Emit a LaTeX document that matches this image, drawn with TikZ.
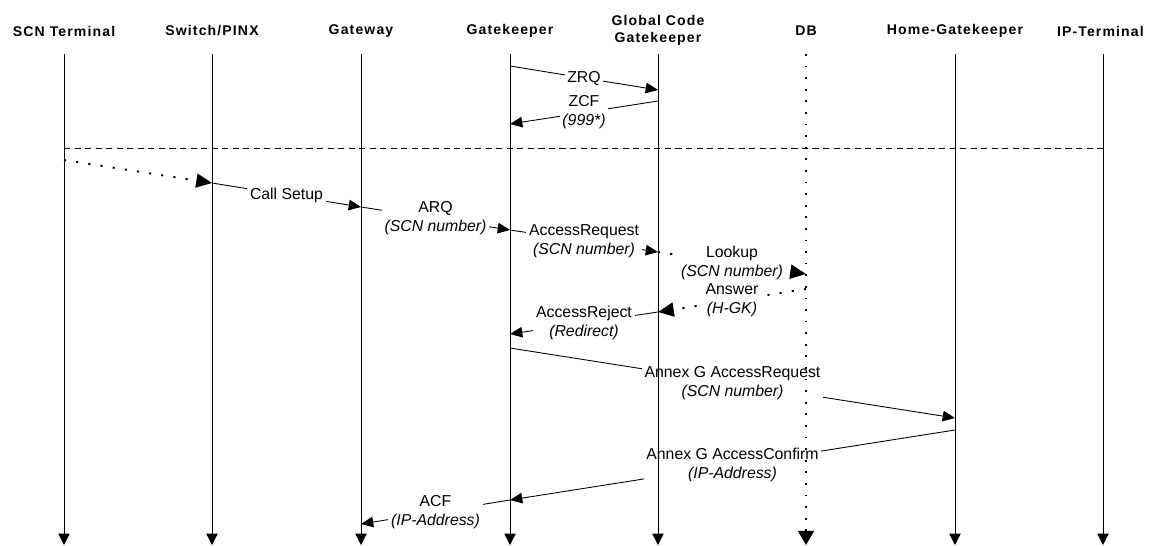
\documentclass[tikz,border=0pt]{standalone}
\usepackage{fontspec}
\setmainfont{Liberation Sans}
\newfontfamily\hdrfont{Liberation Sans}[LetterSpace=8]
\usetikzlibrary{arrows.meta}

\tikzset{
  actor/.style={font=\hdrfont\fontsize{8}{9.6}\selectfont\bfseries, align=center},
  lifeline/.style={line width=0.5pt, -{Triangle[length=6.5pt,width=6.5pt]}},
  dblife/.style={line width=1.2pt, dash pattern=on 1pt off 5.6pt, -{Triangle[length=8pt,width=9pt]}},
  msg/.style={line width=0.5pt, -{Triangle[length=7pt,width=6pt]}},
  dotmsg/.style={line width=1.1pt, dash pattern=on 1.2pt off 5.8pt, -{Triangle[length=9pt,width=8pt]}},
  lbl/.style={fill=white, align=center, inner sep=1.5pt, font=\fontsize{9}{10.8}\selectfont},
}

\begin{document}
\begin{tikzpicture}[x=0.02cm, y=-0.02cm]
    \useasboundingbox (0,0) rectangle (1150,545);

    % Actors
    \node[actor] (scn)  at (64,31)  {SCN Terminal};
    \node[actor] (pinx) at (212,31) {Switch/PINX};
    \node[actor] (gw)   at (361,31) {Gateway};
    \node[actor] (gk)   at (510,31) {Gatekeeper};
    \node[actor] (gcgk) at (658,30) {Global Code\\Gatekeeper};
    \node[actor] (db)   at (806,31) {DB};
    \node[actor] (hgk)  at (955,31) {Home-Gatekeeper};
    \node[actor, anchor=east] (ipt) at (1150,31) {IP-Terminal};

    % Lifeline ends
    \foreach \n/\x in {scn/64, pinx/212, gw/361, gk/510, gcgk/658, db/806, hgk/955, ipt/1103} {
        \coordinate (\n-top) at (\x,54);
        \coordinate (\n-bot) at (\x,545);
    }

    % Zone registration
    \draw[msg] (gk-top |- 0,66) -- node[lbl] {ZRQ} (gcgk-top |- 0,90);
    \draw[msg] (gcgk-top |- 0,101) -- node[lbl] {ZCF\\\textit{(999*)}} (gk-top |- 0,124);

    % Separator
    \draw[line width=0.4pt, dash pattern=on 3.5pt off 2.5pt] (scn-top |- 0,148) -- (ipt-top |- 0,148);

    % Call
    \draw[dotmsg] (scn-top |- 0,160) -- (pinx-top |- 0,183);
    \draw[msg] (pinx-top |- 0,183) -- node[lbl] {Call Setup} (gw-top |- 0,207);
    \draw[msg] (gw-top |- 0,207) -- node[lbl] {ARQ\\\textit{(SCN number)}} (gk-top |- 0,230);
    \draw[msg] (gk-top |- 0,230) -- node[lbl] {AccessRequest\\\textit{(SCN number)}} (gcgk-top |- 0,252);
    \draw[dotmsg] (gcgk-top |- 0,252) -- node[lbl] {Lookup\\\textit{(SCN number)}} (db-top |- 0,274);
    \draw[dotmsg] (db-top |- 0,289) -- node[lbl] {Answer\\\textit{(H-GK)}} (gcgk-top |- 0,312);
    \draw[msg] (gcgk-top |- 0,312) -- node[lbl] {AccessReject\\\textit{(Redirect)}} (gk-top |- 0,334);
    \draw[msg] (gk-top |- 0,348) -- node[lbl] {Annex G AccessRequest\\\textit{(SCN number)}} (hgk-top |- 0,418);
    \draw[msg] (hgk-top |- 0,430) -- node[lbl] {Annex G AccessConfirm\\\textit{(IP-Address)}} (gk-top |- 0,500);
    \draw[msg] (gk-top |- 0,500) -- node[lbl] {ACF\\\textit{(IP-Address)}} (gw-top |- 0,524);

    % Lifelines (on top of the labels)
    \foreach \n in {scn, pinx, gw, gk, gcgk, hgk, ipt}
        \draw[lifeline] (\n-top) -- (\n-bot);
    \draw[dblife] (db-top) -- (db-bot);
\end{tikzpicture}
\end{document}
